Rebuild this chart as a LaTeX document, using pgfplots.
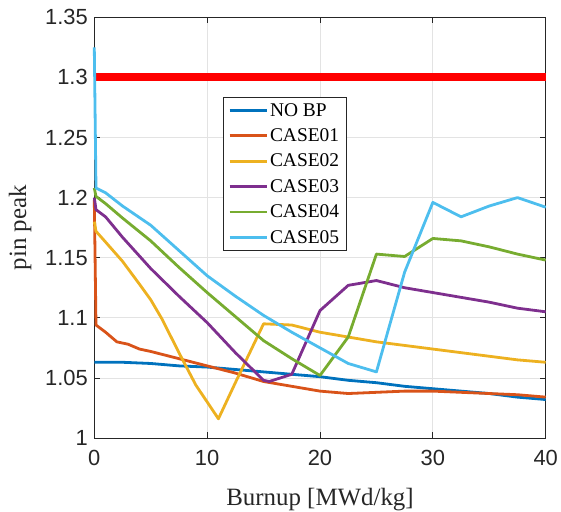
\documentclass[border=0pt]{standalone}
\usepackage{fontspec}
\setmainfont{Liberation Serif}
\newfontfamily\tickfont{Liberation Sans}
\usepackage{pgfplots}
\pgfplotsset{compat=1.18}
\definecolor{mblue}{HTML}{0072BD}
\definecolor{morange}{HTML}{D95319}
\definecolor{myellow}{HTML}{EDB120}
\definecolor{mpurple}{HTML}{7E2F8E}
\definecolor{mgreen}{HTML}{77AC30}
\definecolor{mcyan}{HTML}{4DBEEE}
\definecolor{axgray}{HTML}{262626}
\definecolor{gridgray}{HTML}{E3E3E3}
\begin{document}
\begin{tikzpicture}
\begin{axis}[
  name=ax,
  at={(0,0)}, anchor=south west,
  scale only axis,
  width=451.4bp, height=420.7bp,
  xmin=0, xmax=40, ymin=1, ymax=1.35,
  xtick={0,10,20,30,40},
  ytick={1,1.05,1.1,1.15,1.2,1.25,1.3,1.35},
  /pgf/number format/assume math mode=true,
  ticklabel style={font=\tickfont\fontsize{22}{26}\selectfont, text=axgray},
  xticklabel style={yshift=-9bp},
  yticklabel style={xshift=-3bp},
  tick align=inside,
  major tick length=6bp,
  tick style={axgray, line width=0.7bp},
  axis line style={axgray, line width=0.8bp},
  grid=major,
  major grid style={gridgray, line width=0.8bp},
  clip=false,
  xlabel={Burnup [MWd/kg]},
  ylabel={pin peak},
  label style={font=\fontsize{25}{28}\selectfont, text=axgray, inner sep=0pt},
  xlabel style={at={(axis description cs:0.5,-0.119)}, anchor=north},
  ylabel style={at={(axis description cs:-0.1386,0.5)}, anchor=south, rotate=0},
  legend style={at={(0.285,0.8106)}, anchor=north west, draw=axgray, line width=0.6bp,
    font=\fontsize{19.5}{22}\selectfont, inner xsep=5bp, inner ysep=4bp,
    row sep=7bp, cells={anchor=west}},
  legend image code/.code={\draw[#1] (0bp,0bp) -- (37bp,0bp);},
  every axis plot/.append style={line width=2.8bp, line join=round},
]
\addplot[red, line width=8bp, forget plot] coordinates {(0,1.3) (40,1.3)};
% NO BP
\addplot[mblue] table {
0 1.063
2.5 1.063
5 1.062
7.5 1.060
10 1.059
12.5 1.057
15 1.055
17.5 1.053
20 1.051
22.5 1.048
25 1.046
27.5 1.043
30 1.041
32.5 1.039
35 1.037
37.5 1.034
40 1.032
};
\addlegendentry{NO BP}
% CASE01
\addplot[morange] table {
0 1.198
0.15 1.094
1 1.088
2 1.080
3 1.078
4 1.074
5 1.072
7.5 1.066
10 1.060
12.5 1.054
15 1.047
17.5 1.043
20 1.039
22.5 1.037
25 1.038
27.5 1.039
30 1.039
32.5 1.038
35 1.037
37.5 1.036
40 1.034
};
\addlegendentry{CASE01}
% CASE02
\addplot[myellow] table {
0 1.180
0.15 1.172
1 1.163
2.5 1.147
4 1.128
5 1.115
6 1.099
7.5 1.071
9 1.044
10 1.030
11 1.016
12.5 1.046
15 1.095
17.5 1.094
20 1.088
22.5 1.084
25 1.080
27.5 1.077
30 1.074
32.5 1.071
35 1.068
37.5 1.065
40 1.063
};
\addlegendentry{CASE02}
% CASE03
\addplot[mpurple] table {
0 1.200
0.15 1.190
1 1.184
2.5 1.167
5 1.141
7.5 1.118
10 1.096
12.5 1.071
15 1.048
15.5 1.047
17.5 1.053
20 1.106
22.5 1.127
25 1.131
27.5 1.125
30 1.121
32.5 1.117
35 1.113
37.5 1.108
40 1.105
};
\addlegendentry{CASE03}
% CASE04
\addplot[mgreen] table {
0 1.208
0.15 1.201
1 1.195
2.5 1.183
5 1.164
7.5 1.142
10 1.121
12.5 1.101
15 1.081
17.5 1.066
20 1.052
22.5 1.084
25 1.153
27.5 1.151
30 1.166
32.5 1.164
35 1.159
37.5 1.153
40 1.148
};
\addlegendentry{CASE04}
% CASE05
\addplot[mcyan] table {
0 1.325
0.15 1.208
1 1.204
2.5 1.193
5 1.177
7.5 1.156
10 1.135
12.5 1.118
15 1.102
17.5 1.088
20 1.075
22.5 1.062
25 1.055
27.5 1.138
30 1.196
32.5 1.184
35 1.193
37.5 1.200
40 1.192
};
\addlegendentry{CASE05}
\end{axis}
\pgfresetboundingbox
\path[use as bounding box] ([xshift=-94.3bp,yshift=-74bp]ax.south west) rectangle ([xshift=15.3bp,yshift=17.3bp]ax.north east);
\end{tikzpicture}
\end{document}
